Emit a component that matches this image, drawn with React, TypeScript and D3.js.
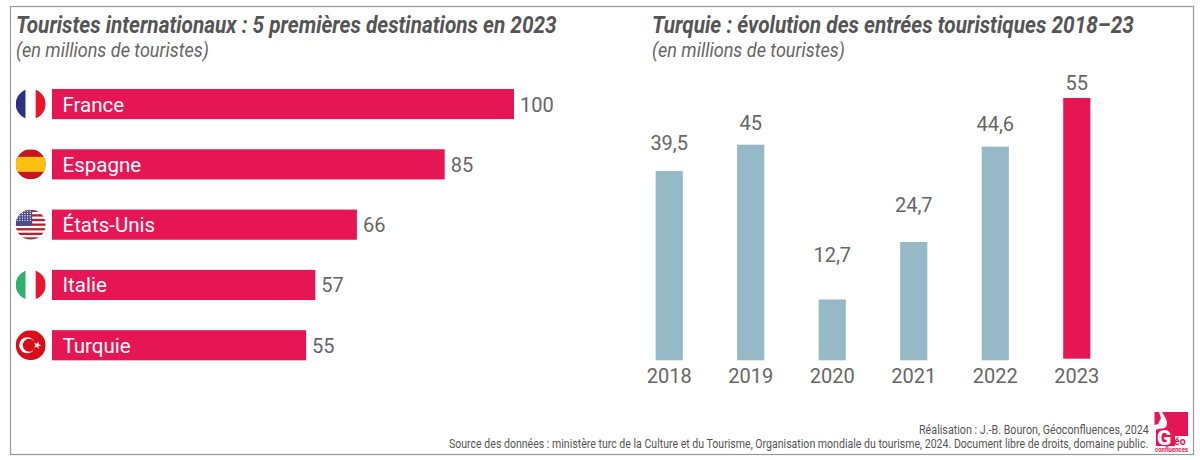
import React, { useLayoutEffect, useRef } from "react";
import * as d3 from "d3";

const destinations = ["France", "Espagne", "États-Unis", "Italie", "Turquie"];
const destinationValues = [100, 85, 66, 57, 55];
const years = ["2018", "2019", "2020", "2021", "2022", "2023"];
const arrivals = [39.5, 45, 12.7, 24.7, 44.6, 55];
const arrivalLabels = ["39,5", "45", "12,7", "24,7", "44,6", "55"];

const PINK = "#e51653";
const BLUE = "#95b9c7";
const GREY = "#666666";
const DARK = "#555555";
const FONT = "Roboto, sans-serif";

// vertical distance between each bar's top and its hand-placed label in the reference
const labelLift = [21, 14.7, 37, 29.7, 15.6, 8];

const xLeft = d3.scaleLinear().domain([0, 100]).range([52, 514]);
const yLeft = d3.scaleBand().domain(destinations).range([73.9, 375.4]).paddingInner(0.5).paddingOuter(0.25);
const xRight = d3.scaleBand().domain(years).range([628.5, 1117.5]).paddingInner(0.667).paddingOuter(0.333);
const yRight = d3.scaleLinear().domain([0, 45]).range([360.3, 144.7]);
const yHighlight = d3.scaleLinear().domain([0, 55]).range([358.7, 98]);

// Text condensed horizontally to a target width (the original face is a condensed one).
function T({ x, y, w, children, ...rest }: any) {
  const ref = useRef<SVGTextElement>(null);
  useLayoutEffect(() => {
    const el = ref.current;
    if (!el) return;
    const natural = el.getComputedTextLength();
    el.setAttribute("transform", `translate(${x},${y}) scale(${w / natural},1)`);
  }, [x, y, w]);
  return (
    <text ref={ref} fontFamily={FONT} transform={`translate(${x},${y})`} {...rest}>
      {children}
    </text>
  );
}

function Flag({ name, cy, id }: { name: string; cy: number; id: string }) {
  const cx = 30.7, r = 15, x = cx - r, y = cy - r, d = r * 2;
  let body: React.ReactNode = null;
  if (name === "France") {
    body = (<>
      <rect x={x} y={y} width={d / 3} height={d} fill="#2b3284" />
      <rect x={x + d / 3} y={y} width={d / 3} height={d} fill="#fff" />
      <rect x={x + (2 * d) / 3} y={y} width={d / 3} height={d} fill="#e9162d" />
    </>);
  } else if (name === "Italie") {
    body = (<>
      <rect x={x} y={y} width={d / 3} height={d} fill="#2fb06b" />
      <rect x={x + d / 3} y={y} width={d / 3} height={d} fill="#fff" />
      <rect x={x + (2 * d) / 3} y={y} width={d / 3} height={d} fill="#e9162d" />
    </>);
  } else if (name === "Espagne") {
    body = (<>
      <rect x={x} y={y} width={d} height={d} fill="#c4161f" />
      <rect x={x} y={y + d / 4} width={d} height={d / 2} fill="#fdc010" />
    </>);
  } else if (name === "États-Unis") {
    const stripes = d3.range(13);
    const sh = d / 13;
    const stars = d3.range(5).flatMap((row) => d3.range(6).map((col) => [col, row]));
    body = (<>
      <rect x={x} y={y} width={d} height={d} fill="#fff" />
      {stripes.filter((s) => s % 2 === 0).map((s) => (
        <rect key={s} x={x} y={y + s * sh} width={d} height={sh} fill="#b8202f" />
      ))}
      <rect x={x} y={y} width={d * 0.55} height={sh * 7} fill="#4a4c88" />
      {stars.map(([c, r2]) => (
        <circle key={c + "-" + r2} cx={x + 1.5 + c * 2.6} cy={y + 1.5 + r2 * 2.3} r={0.65} fill="#fff" />
      ))}
    </>);
  } else {
    const star = d3.range(10).map((i) => {
      const a = (i * Math.PI) / 5 - Math.PI / 2 + 0.3;
      const rad = i % 2 === 0 ? 4 : 1.6;
      return [cx + 6.5 + rad * Math.cos(a), cy + rad * Math.sin(a)].join(",");
    }).join(" ");
    body = (<>
      <rect x={x} y={y} width={d} height={d} fill="#d80d17" />
      <circle cx={cx - 3.5} cy={cy} r={8} fill="#fff" />
      <circle cx={cx - 1.5} cy={cy} r={6.4} fill="#d80d17" />
      <polygon points={star} fill="#fff" />
    </>);
  }
  return (
    <g>
      <clipPath id={id}><circle cx={cx} cy={cy} r={r} /></clipPath>
      <g clipPath={`url(#${id})`}>{body}</g>
    </g>
  );
}

export default function App() {
  return (
    <svg width={1200} height={460} style={{ position: "absolute", left: 0, top: 0, background: "#fff" }}>
      <rect x={10.5} y={6.5} width={1183} height={448} fill="#fff" stroke="#999999" strokeWidth={1.2} />

      <T x={16} y={33} w={541} fontSize={24} fontWeight={700} fontStyle="italic" fill={DARK}>
        Touristes internationaux : 5 premières destinations en 2023
      </T>
      <T x={16} y={57} w={193} fontSize={20} fontStyle="italic" fill={GREY}>(en millions de touristes)</T>
      <T x={652} y={33} w={482} fontSize={24} fontWeight={700} fontStyle="italic" fill={DARK}>
        Turquie : évolution des entrées touristiques 2018–23
      </T>
      <T x={652} y={57} w={193} fontSize={20} fontStyle="italic" fill={GREY}>(en millions de touristes)</T>

      {destinations.map((name, i) => {
        const y = yLeft(name)!;
        const h = yLeft.bandwidth();
        const cy = y + h / 2;
        return (
          <g key={name}>
            <Flag name={name} cy={cy} id={"flag" + i} />
            <rect x={xLeft(0)} y={y} width={xLeft(destinationValues[i]) - xLeft(0)} height={h} fill={PINK} />
            <text x={xLeft(0) + 10.5} y={cy + 7.5} fontFamily={FONT} fontSize={20.5} fill="#fff">{name}</text>
            <text x={xLeft(destinationValues[i]) + 6} y={cy + 7.5} fontFamily={FONT} fontSize={20} fill={GREY}>{destinationValues[i]}</text>
          </g>
        );
      })}

      {years.map((yr, i) => {
        const x = xRight(yr)!;
        const w = xRight.bandwidth();
        const c = x + w / 2;
        const isLast = yr === "2023";
        const scale = isLast ? yHighlight : yRight;
        const top = scale(arrivals[i]);
        return (
          <g key={yr}>
            <rect x={x} y={top} width={w} height={scale(0) - top} fill={isLast ? PINK : BLUE} />
            <text x={c} y={top - labelLift[i]} textAnchor="middle" fontFamily={FONT} fontSize={20} fill={GREY}>{arrivalLabels[i]}</text>
            <text x={c} y={383} textAnchor="middle" fontFamily={FONT} fontSize={20} fill={GREY}>{yr}</text>
          </g>
        );
      })}

      <T x={919} y={434} w={230} fontSize={12.5} fill={DARK}>Réalisation : J.-B. Bouron, Géoconfluences, 2024</T>
      <T x={449} y={448} w={700} fontSize={12.5} fill={DARK}>
        Source des données : ministère turc de la Culture et du Tourisme, Organisation mondiale du tourisme, 2024. Document libre de droits, domaine public.
      </T>

      <path d="M1154.5 412H1159L1161 418L1158 424L1154.5 425ZM1162 412H1188V436H1175V446H1156V430C1160 427 1167 431 1167 423C1167 419 1164 416 1162 412Z" fill={PINK} />
      <text x={1157} y={445} fontFamily={FONT} fontSize={21} fontWeight={900} fill="#fff">G</text>
      <text x={1174} y={445} fontFamily={FONT} fontSize={10.5} fontWeight={700} fill={PINK}>éo</text>
      <T x={1155} y={452} w={33} fontSize={7} fontWeight={700} fill={PINK}>confluences</T>
    </svg>
  );
}
